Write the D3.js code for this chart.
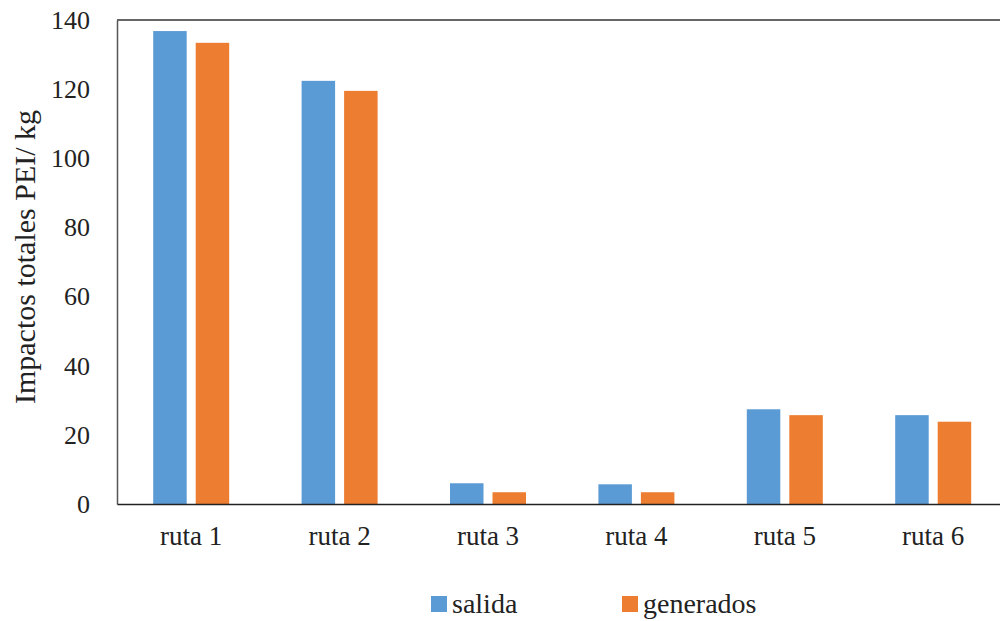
<!DOCTYPE html>
<html><head><meta charset="utf-8">
<script src="https://cdn.jsdelivr.net/npm/d3@7"></script>
<style>body{margin:0;background:#fff}svg{display:block}</style>
</head><body><svg id="c" width="1000" height="621"></svg>
<script>
const categories = ["ruta 1","ruta 2","ruta 3","ruta 4","ruta 5","ruta 6"];
const seriesNames = ["salida","generados"];
const salida = [136.8, 122.4, 6.0, 5.7, 27.4, 25.7];
const generados = [133.4, 119.5, 3.4, 3.4, 25.7, 23.8];
const yTicks = [0,20,40,60,80,100,120,140];
const colors = ["#5B9BD5","#ED7D31"];

(function(){
const FONT = "Liberation Serif, Tinos, Times New Roman, DejaVu Serif, serif";
const svg = d3.select("#c");
const mLeft = 117, mTop = 20, mBottom = 504, mRight = 117 + 6*148.4;
const x = d3.scaleBand().domain(categories).range([mLeft, mRight]);
const y = d3.scaleLinear().domain([0,140]).range([mBottom, mTop]);
const bw = 33.5, gap = 9;

svg.append("line").attr("x1",mLeft).attr("x2",1000).attr("y1",mTop).attr("y2",mTop).attr("stroke","#666").attr("stroke-width",2);

const data = [salida, generados];
data.forEach((vals, si) => {
  svg.append("g").selectAll("rect").data(vals).join("rect")
    .attr("x",(d,i)=> x(categories[i]) + x.bandwidth()/2 - bw - gap/2 + si*(bw+gap))
    .attr("y", d=>y(d)).attr("width", bw).attr("height", d=>y(0)-y(d))
    .attr("fill", colors[si]);
});

const ya = svg.append("g").attr("transform",`translate(${mLeft},0)`)
  .call(d3.axisLeft(y).tickValues(yTicks).tickSize(0).tickPadding(27));
ya.attr("font-family", null).attr("font-size", null);
ya.select(".domain").attr("stroke","#555").attr("stroke-width",1.5);
ya.selectAll("text").attr("fill","#222").style("font-family",FONT).style("font-size","26px");

const xa = svg.append("g").attr("transform",`translate(0,${mBottom})`)
  .call(d3.axisBottom(x).tickSize(0).tickPadding(22));
xa.attr("font-family", null).attr("font-size", null);
xa.select(".domain").attr("stroke","#222").attr("stroke-width",1.5);
xa.selectAll("text").attr("fill","#222").style("font-family",FONT).style("font-size","27px");

svg.append("text").attr("transform","translate(35,257) rotate(-90)")
  .attr("text-anchor","middle").style("font-family",FONT).style("font-size","30px").attr("fill","#222")
  .text("Impactos totales PEI/ kg");

const legX = [431, 622];
seriesNames.forEach((n,i)=>{
  svg.append("rect").attr("x",legX[i]).attr("y",596).attr("width",16).attr("height",16).attr("fill",colors[i]);
  svg.append("text").attr("x",legX[i]+21).attr("y",613).style("font-family",FONT).style("font-size","28px").attr("fill","#222").text(n);
});
})();
</script></body></html>
